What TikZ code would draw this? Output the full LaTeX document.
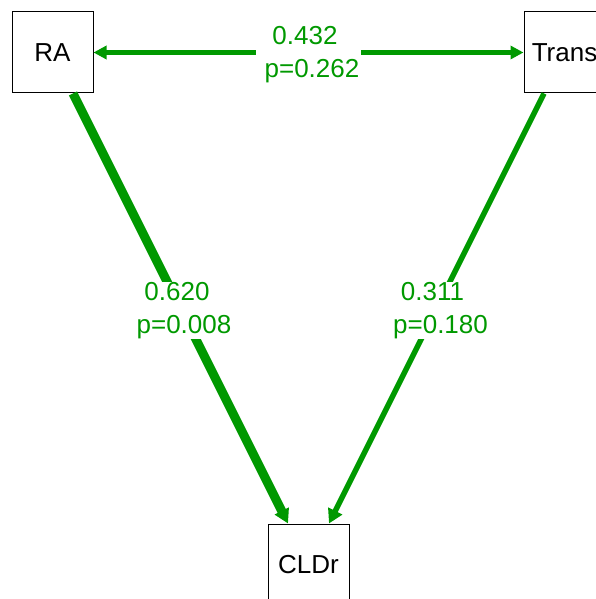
\documentclass[tikz,border=0pt]{standalone}
\usepackage{fontspec}
\setmainfont{Liberation Sans}
\usetikzlibrary{arrows.meta}
\definecolor{qgreen}{RGB}{0,153,0}
\begin{document}
\begin{tikzpicture}[x=1pt,y=-1pt,
  box/.style={draw=black, line width=1pt, minimum size=81pt, inner sep=0pt,
    font=\fontsize{26}{30}\selectfont},
  edge/.style={draw=qgreen},
  lbl/.style={fill=white, text=qgreen, inner xsep=2pt, inner ysep=0pt, align=center,
    font=\fontsize{26}{33}\selectfont, yshift=-2pt}]
\useasboundingbox (0,0) rectangle (596,599);
\node[box] (RA) at (52.5,52.5) {RA};
\node[box] (Trans) at (564.5,52.5) {Trans};
\node[box] (CLDr) at (308.5,564.5) {CLDr};
\draw[edge, line width=5pt, {Triangle[length=13pt,width=13pt]}-{Triangle[length=13pt,width=13pt]}]
  (RA) -- node[lbl] (l1) {0.432\hspace*{7pt}\\\hspace*{7pt}p=0.262} (Trans);
\draw[edge, line width=9pt, -{Triangle[length=14pt,width=15pt]}]
  (RA) -- node[lbl] (l2) {0.620\hspace*{7pt}\\\hspace*{7pt}p=0.008} (CLDr);
\draw[edge, line width=5.5pt, -{Triangle[length=14pt,width=15pt]}]
  (Trans) -- node[lbl] (l3) {0.311\hspace*{8pt}\\\hspace*{8pt}p=0.180} (CLDr);
\end{tikzpicture}
\end{document}
